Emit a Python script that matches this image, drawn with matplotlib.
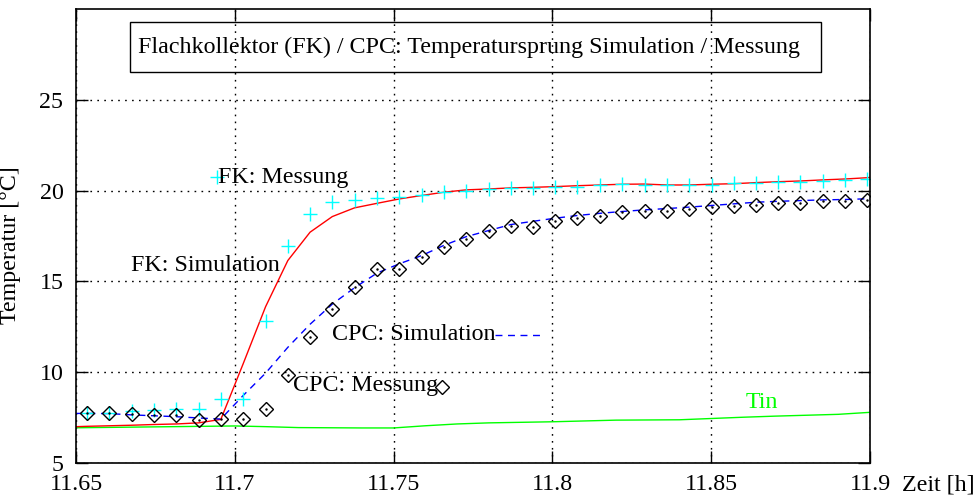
import numpy as np
import matplotlib
matplotlib.use("Agg")
import matplotlib.pyplot as plt
from matplotlib.patches import Rectangle

plt.rcParams['font.family'] = ['Liberation Serif', 'DejaVu Serif']

# measurement times [h]
t_mess = [11.6535, 11.6605, 11.6675, 11.6746, 11.6816, 11.6886, 11.6956, 11.7026,
          11.7097, 11.7167, 11.7237, 11.7307, 11.7377, 11.7448, 11.7518, 11.7588,
          11.7658, 11.7728, 11.7799, 11.7869, 11.7939, 11.8009, 11.8079, 11.8150,
          11.8220, 11.8290, 11.8360, 11.8430, 11.8501, 11.8571, 11.8641, 11.8711,
          11.8781, 11.8852, 11.8922, 11.8992]

fk_mess = [7.76, 7.78, 7.87, 7.91, 7.95, 7.95, 8.55, 8.55, 12.82, 16.94, 18.72, 19.36,
           19.49, 19.60, 19.67, 19.76, 19.91, 20.00, 20.09, 20.13, 20.13, 20.18, 20.22,
           20.31, 20.36, 20.31, 20.31, 20.31, 20.33, 20.40, 20.42, 20.45, 20.49, 20.55,
           20.59, 20.64]

cpc_mess = [7.76, 7.78, 7.69, 7.67, 7.64, 7.36, 7.42, 7.45, 8.00, 9.84, 11.94, 13.50,
            14.69, 15.66, 15.66, 16.34, 16.88, 17.35, 17.75, 18.06, 18.02, 18.30, 18.48,
            18.61, 18.81, 18.90, 18.90, 18.96, 19.08, 19.14, 19.23, 19.32, 19.32, 19.40,
            19.45, 19.49]

# simulation (same time grid, plus start/end of the window)
t_sim = [11.65] + t_mess + [11.90]
fk_sim = [7.00, 7.02, 7.05, 7.08, 7.12, 7.15, 7.21, 7.40, 10.45, 13.61, 16.15, 17.71,
          18.57, 19.05, 19.30, 19.54, 19.73, 19.91, 20.04, 20.09, 20.15, 20.18, 20.22,
          20.27, 20.31, 20.35, 20.36, 20.31, 20.31, 20.35, 20.38, 20.44, 20.49, 20.53,
          20.59, 20.64, 20.71, 20.73]
cpc_sim = [7.73, 7.73, 7.72, 7.65, 7.60, 7.55, 7.48, 7.42, 8.71, 9.95, 11.37, 12.64,
           13.75, 14.65, 15.46, 15.97, 16.42, 16.98, 17.46, 17.80, 18.13, 18.31, 18.48,
           18.63, 18.75, 18.85, 18.94, 19.01, 19.09, 19.18, 19.27, 19.36, 19.41, 19.45,
           19.49, 19.51, 19.55, 19.55]

t_tin = [11.65, 11.67, 11.69, 11.70, 11.71, 11.72, 11.74, 11.75, 11.76, 11.77,
         11.78, 11.80, 11.82, 11.84, 11.85, 11.86, 11.87, 11.88, 11.89, 11.90]
tin = [6.94, 6.98, 7.02, 7.04, 7.00, 6.95, 6.93, 6.93, 7.05, 7.15,
       7.21, 7.27, 7.36, 7.38, 7.45, 7.52, 7.58, 7.63, 7.68, 7.79]

xticks = [11.65, 11.7, 11.75, 11.8, 11.85, 11.9]
xlabels = ['11.65', '11.7', '11.75', '11.8', '11.85', '11.9']
yticks = [5, 10, 15, 20, 25]

fig = plt.figure(figsize=(9.77, 4.97), dpi=100)
ax = fig.add_axes([76/977, 1-463/497, 794/977, 454/497])

fs = 17.3
green = '#00ff00'
ax.plot(t_tin, tin, color=green, lw=1.0)
ax.plot(t_sim, fk_sim, color='red', lw=1.0)
ax.plot(t_sim, cpc_sim, color='blue', lw=1.0, dashes=(5, 4))
ax.plot(t_mess, fk_mess, ls='none', marker='+', ms=10, mew=1.0, color='cyan')
ax.plot(t_mess, cpc_mess, ls='none', marker='D', ms=7, mew=1.0, mfc='none', mec='black')
ax.plot(t_mess, cpc_mess, ls='none', marker='.', ms=1.5, color='black')

# key entries placed inside the plot
ax.plot([11.6944], [20.73], ls='none', marker='+', ms=10, mew=1.0, color='cyan')
ax.text(11.6947, 20.73, 'FK: Messung', fontsize=fs, ha='left', va='center')
ax.text(11.7143, 15.88, 'FK: Simulation', fontsize=fs, ha='right', va='center')
ax.text(11.782, 12.07, 'CPC: Simulation', fontsize=fs, ha='right', va='center')
ax.plot([11.782, 11.797], [12.07, 12.07], color='blue', lw=1.0, dashes=(5, 4))
ax.text(11.764, 9.29, 'CPC: Messung', fontsize=fs, ha='right', va='center')
ax.plot([11.7653], [9.19], ls='none', marker='D', ms=7, mew=1.0, mfc='none', mec='black')
ax.text(11.866, 8.35, 'Tin', fontsize=fs, color=green, ha='center', va='center')

# title box
ax.add_patch(Rectangle(((130-76)/794, (463-72)/454), (821-130)/794, 50/454,
                       transform=ax.transAxes, fill=False, ec='black', lw=1.0, zorder=5))
ax.text((469-76)/794, (463-47)/454,
        'Flachkollektor (FK) / CPC: Temperatursprung Simulation / Messung',
        transform=ax.transAxes, fontsize=fs, ha='center', va='center', zorder=6)

ax.set_xlim(11.65, 11.9)
ax.set_ylim(5, 30)
ax.set_xticks(xticks)
ax.set_xticklabels(xlabels)
ax.set_yticks(yticks)
ax.tick_params(direction='in', length=8.5, width=1, top=True, right=True,
               labelsize=fs)
ax.tick_params(axis='x', pad=8)
ax.tick_params(axis='y', pad=9)
for lab in ax.get_yticklabels():
    lab.set_verticalalignment('center_baseline')
ax.grid(True, color='black', lw=1.0, linestyle=(0, (1.2, 3.8)))
for s in ax.spines.values():
    s.set_linewidth(1.2)

ax.set_ylabel('Temperatur [°C]', fontsize=fs)
ax.yaxis.set_label_coords((21-76)/794, (463-245)/454)
fig.text(902/977, 1-485/497, 'Zeit [h]', fontsize=fs, ha='left', va='center')

fig.savefig('out.png', dpi=100)
